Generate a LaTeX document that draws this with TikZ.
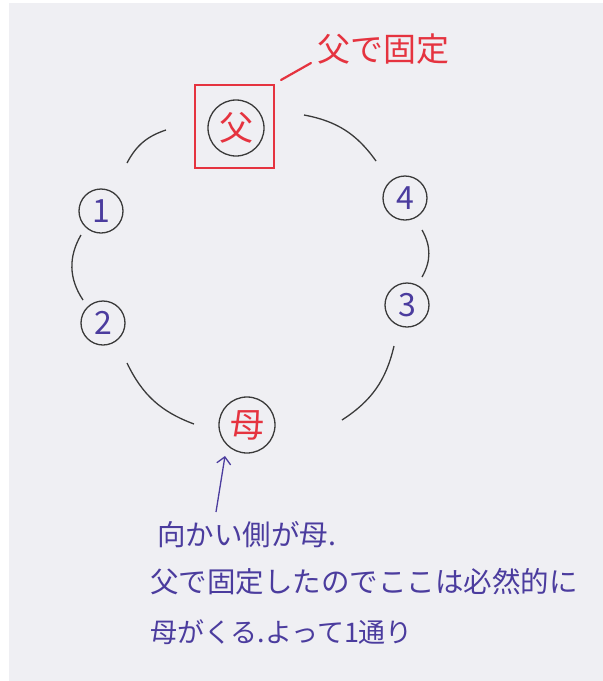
\documentclass[tikz,border=0pt]{standalone}
\usepackage{fontspec}
\setmainfont{Noto Sans CJK JP}
\usetikzlibrary{arrows.meta}
\definecolor{penred}{HTML}{E5333F}
\definecolor{penblue}{HTML}{4B3C9E}
\definecolor{pengrey}{HTML}{3A3A3A}
\definecolor{paper}{HTML}{EFEFF3}
\tikzset{
  seat/.style={circle, draw=pengrey, line width=1.3pt, minimum size=44pt, inner sep=0pt, text=penblue, font=\fontsize{32}{34}\selectfont},
  bigseat/.style={circle, draw=pengrey, line width=1.3pt, minimum size=56pt, inner sep=0pt, text=penred, font=\fontsize{34}{36}\selectfont},
  ring/.style={draw=pengrey, line width=1.3pt, bend left=#1},
  note/.style={anchor=west, inner sep=0pt, text=penblue, font=\fontsize{28.5}{30}\selectfont},
}
\begin{document}
\begin{tikzpicture}[x=1pt,y=1pt]
\useasboundingbox (0,0) rectangle (603,-681);
\fill[white] (0,0) rectangle (603,-681);
\fill[paper] (9,-3) rectangle (603,-681);

% seats
\node[bigseat] (father) at (236,-128) {父};
\node[draw=penred, line width=1.8pt, minimum width=79pt, minimum height=83pt, inner sep=0pt] (fixbox) at (234.5,-126.5) {};
\node[seat] (s1) at (101,-211) {1};
\node[seat] (s2) at (103,-323) {2};
\node[seat] (s3) at (407,-305) {3};
\node[seat] (s4) at (405,-198) {4};
\node[bigseat] (mother) at (247,-425) {母};

% ring arcs
\coordinate (a1) at (127,-163); \coordinate (b1) at (166,-130);
\coordinate (a2) at (304,-115); \coordinate (b2) at (376,-161);
\coordinate (a3) at (422,-230); \coordinate (b3) at (422,-277);
\coordinate (a4) at (394,-346); \coordinate (b4) at (342,-420);
\coordinate (a5) at (194,-424); \coordinate (b5) at (127,-363);
\coordinate (a6) at (83,-300);  \coordinate (b6) at (81,-235);
\draw[ring=22] (a1) to (b1);
\draw[ring=22] (a2) to (b2);
\draw[ring=30] (a3) to (b3);
\draw[ring=22] (a4) to (b4);
\draw[ring=22] (a5) to (b5);
\draw[ring=32] (a6) to (b6);

% label for father
\node[text=penred, font=\fontsize{33}{35}\selectfont, anchor=west, inner sep=0pt] (fixlabel) at (317,-49) {父で固定};
\coordinate (lead1) at (281,-80);
\coordinate (lead2) at (311,-63);
\draw[penred, line width=2.2pt, line cap=round] (lead1) -- (lead2);

% arrow to mother
\coordinate (tail) at (216,-512);
\coordinate (tip) at (225,-456);
\draw[penblue, line width=1.3pt, -{Straight Barb[length=7pt, width=14pt]}] (tail) -- (tip);

% explanation
\node[note] (t1) at (157,-535) {向かい側が母.};
\node[note] (t2) at (150,-582) {父で固定したのでここは必然的に};
\node[note, font=\fontsize{27}{29}\selectfont] (t3) at (150,-632) {母がくる.よって1通り};
\end{tikzpicture}
\end{document}
